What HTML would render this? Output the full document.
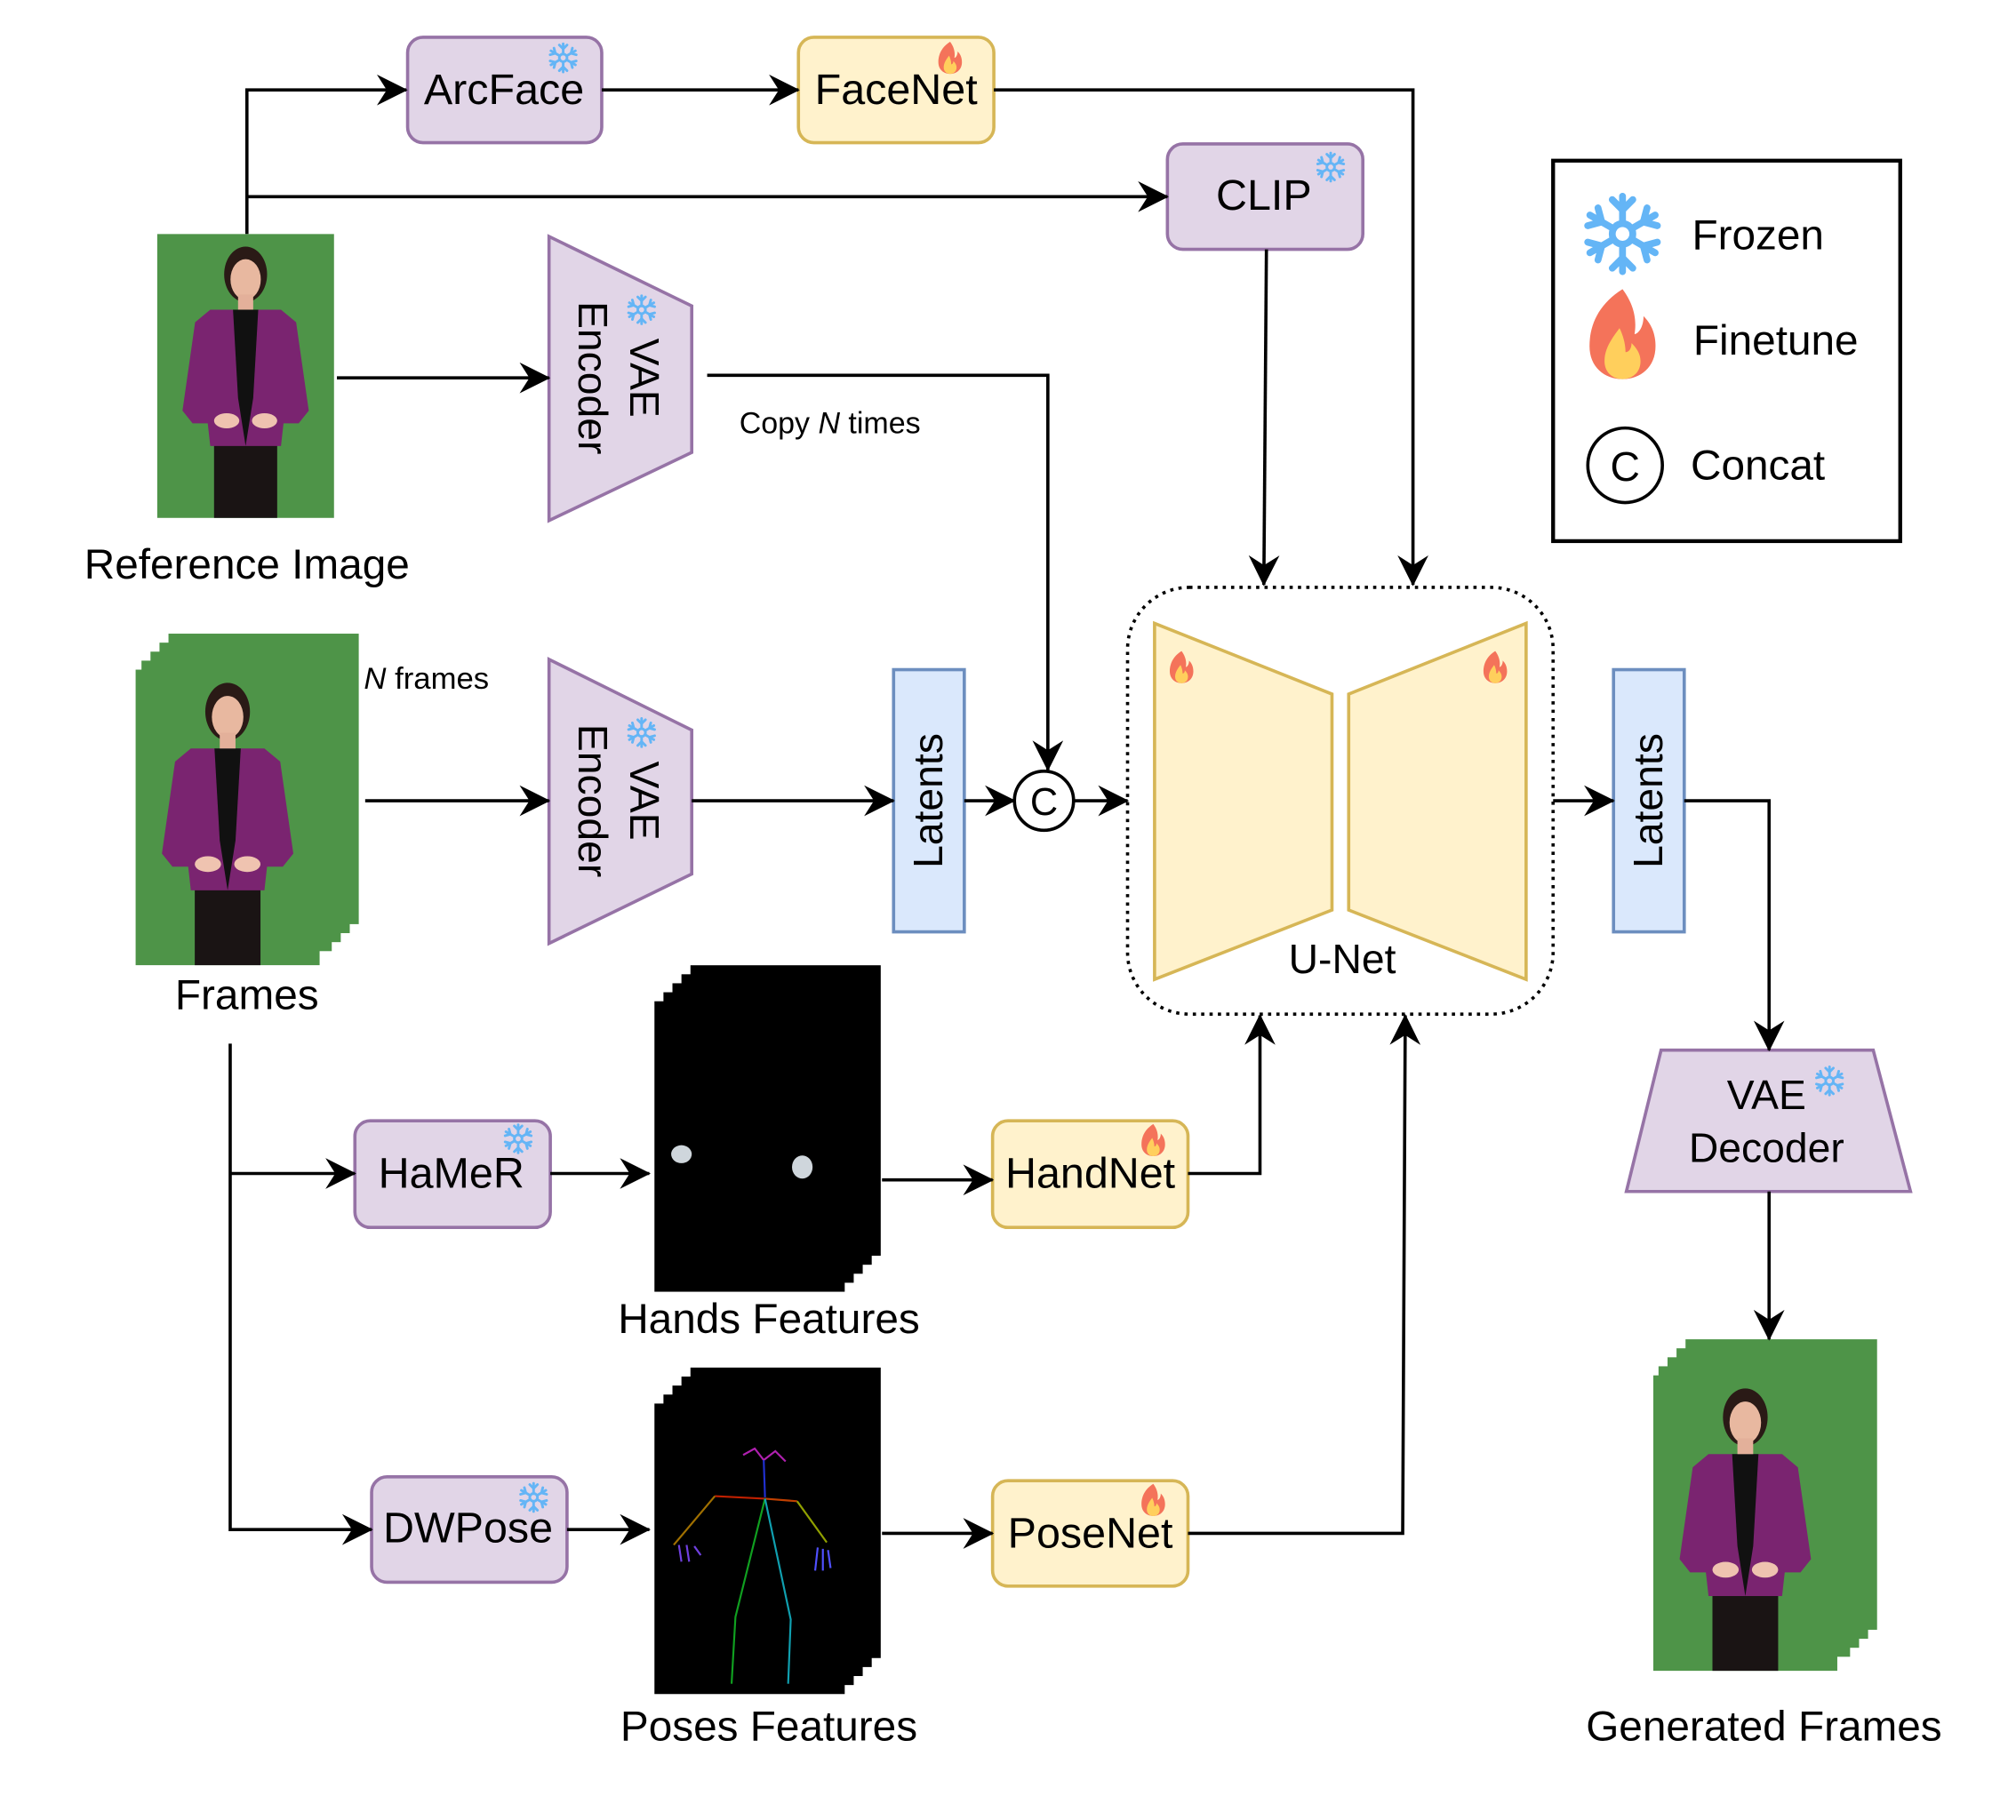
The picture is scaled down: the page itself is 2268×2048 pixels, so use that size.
<!DOCTYPE html>
<html><head><meta charset="utf-8"><style>
html,body{margin:0;padding:0;background:#fff}
svg{display:block}
text{font-family:"Liberation Sans",sans-serif;fill:#000}
</style></head><body>
<svg width="2268" height="2048" viewBox="0 0 1568 1416" xmlns="http://www.w3.org/2000/svg">
<defs>
<marker id="a" viewBox="0 0 22 22" refX="21" refY="11" markerWidth="24" markerHeight="24" markerUnits="userSpaceOnUse" orient="auto">
<path d="M0,0 L22,11 L0,22 L7,11 Z" fill="#000"/></marker>
<symbol id="snow" viewBox="-12 -12 24 24">
<g stroke="#64b5f6" stroke-width="2" stroke-linecap="round" fill="none">
<g id="arm"><line x1="0" y1="-3" x2="0" y2="-11"/><line x1="0" y1="-7" x2="-3" y2="-10"/><line x1="0" y1="-7" x2="3" y2="-10"/></g>
<use href="#arm" transform="rotate(60)"/><use href="#arm" transform="rotate(120)"/><use href="#arm" transform="rotate(180)"/><use href="#arm" transform="rotate(240)"/><use href="#arm" transform="rotate(300)"/>
<circle r="3"/></g></symbol>
<symbol id="fire" viewBox="0 0 24 30">
<path d="M12,0 C4,5 1,12 1,19 C1,26 6,30 12,30 C18,30 23,26 23,19 C23,14 21,11 19,9 C19,13 17,15 16,15 C17,9 15,4 12,0 Z" fill="#f4735a"/>
<path d="M11,13 C8,17 6,20 6,24 C6,28 9,30 12,30 C15,30 18,28 18,24 C18,21 16,19 15,18 C15,20 14,21 13,21 C13,18 12,15 11,13 Z" fill="#ffcf5c"/></symbol>
<symbol id="person" viewBox="0 0 140 225">
<rect width="140" height="225" fill="#4e9448"/>
<rect x="45" y="155" width="50" height="70" fill="#1a1414"/>
<path d="M42,60 L98,60 L110,70 L120,140 L112,150 L100,150 L98,168 L42,168 L40,150 L28,150 L20,140 L30,70 Z" fill="#7a2470"/>
<path d="M60,60 L80,60 L76,130 L70,168 L64,130 Z" fill="#111"/>
<ellipse cx="70" cy="32" rx="17" ry="22" fill="#2a1a16"/>
<ellipse cx="70" cy="36" rx="12" ry="16" fill="#e8b8a0"/>
<rect x="64" y="48" width="12" height="12" fill="#e3b09a"/>
<ellipse cx="55" cy="148" rx="10" ry="6" fill="#efc3b0"/><ellipse cx="85" cy="148" rx="10" ry="6" fill="#efc3b0"/>
</symbol>
</defs>

<use href="#person" x="122" y="182" width="138" height="221" preserveAspectRatio="none"/>
<text x="192" y="450" font-size="33" text-anchor="middle">Reference Image</text>

<g fill="#4e9448">
<rect x="131" y="493" width="148" height="226"/>
<rect x="124" y="500" width="148" height="226"/>
<rect x="117" y="507" width="148" height="226"/>
<rect x="110" y="514" width="148" height="226"/>
</g>
<use href="#person" x="103" y="521" width="148" height="230" preserveAspectRatio="none"/>
<text x="192" y="785" font-size="33" text-anchor="middle">Frames</text>
<text x="283" y="536" font-size="24"><tspan font-style="italic">N</tspan> frames</text>

<g fill="#4e9448">
<rect x="1311" y="1042" width="149" height="226"/>
<rect x="1304" y="1049" width="149" height="226"/>
<rect x="1297" y="1056" width="149" height="226"/>
<rect x="1290" y="1063" width="149" height="226"/>
</g>
<use href="#person" x="1283" y="1070" width="149" height="230" preserveAspectRatio="none"/>
<text x="1372" y="1354" font-size="33" text-anchor="middle">Generated Frames</text>

<g fill="#000">
<rect x="537" y="751" width="148" height="226"/>
<rect x="530" y="758" width="148" height="226"/>
<rect x="523" y="765" width="148" height="226"/>
<rect x="516" y="772" width="148" height="226"/>
<rect x="509" y="779" width="148" height="226"/>
</g>
<ellipse cx="530" cy="898" rx="8" ry="7" fill="#cfd6dc"/>
<ellipse cx="624" cy="908" rx="8" ry="9" fill="#cfd6dc"/>
<text x="598" y="1037" font-size="33" text-anchor="middle">Hands Features</text>

<g fill="#000">
<rect x="537" y="1064" width="148" height="226"/>
<rect x="530" y="1071" width="148" height="226"/>
<rect x="523" y="1078" width="148" height="226"/>
<rect x="516" y="1085" width="148" height="226"/>
<rect x="509" y="1092" width="148" height="226"/>
</g>
<g fill="none" stroke-width="1.5">
<path d="M578,1132 L587,1127 L594,1136 L603,1129 L611,1137" stroke="#b020b0"/>
<line x1="594" y1="1136" x2="595" y2="1165" stroke="#2030d0"/>
<line x1="556" y1="1164" x2="595" y2="1166" stroke="#c02000"/>
<line x1="595" y1="1166" x2="620" y2="1168" stroke="#c04000"/>
<line x1="556" y1="1164" x2="524" y2="1202" stroke="#a07000"/>
<line x1="620" y1="1168" x2="643" y2="1200" stroke="#90a000"/>
<path d="M595,1166 L572,1258 L569,1310" stroke="#10a020"/>
<path d="M595,1166 L615,1260 L613,1310" stroke="#10a0b0"/>
<path d="M528,1202 L530,1215 M534,1202 L536,1215 M540,1203 L545,1210" stroke="#7040e0"/>
<path d="M636,1204 L634,1222 M640,1205 L640,1222 M644,1206 L646,1220" stroke="#5050ff"/>
</g>
<text x="598" y="1354" font-size="33" text-anchor="middle">Poses Features</text>

<g stroke-width="2.5">
<rect x="317" y="29" width="151" height="82" rx="12" fill="#e1d5e7" stroke="#9673a6"/>
<rect x="621" y="29" width="152" height="82" rx="12" fill="#fff2cc" stroke="#d6b656"/>
<rect x="908" y="112" width="152" height="82" rx="12" fill="#e1d5e7" stroke="#9673a6"/>
<rect x="276" y="872" width="152" height="83" rx="12" fill="#e1d5e7" stroke="#9673a6"/>
<rect x="289" y="1149" width="152" height="82" rx="12" fill="#e1d5e7" stroke="#9673a6"/>
<rect x="772" y="872" width="152" height="83" rx="12" fill="#fff2cc" stroke="#d6b656"/>
<rect x="772" y="1152" width="152" height="82" rx="12" fill="#fff2cc" stroke="#d6b656"/>
<rect x="695" y="521" width="55" height="204" fill="#dae8fc" stroke="#6c8ebf"/>
<rect x="1255" y="521" width="55" height="204" fill="#dae8fc" stroke="#6c8ebf"/>
<polygon points="427,184 538,238 538,352 427,405" fill="#e1d5e7" stroke="#9673a6"/>
<polygon points="427,513 538,568 538,680 427,734" fill="#e1d5e7" stroke="#9673a6"/>
<polygon points="1292,817 1457,817 1486,927 1265,927" fill="#e1d5e7" stroke="#9673a6"/>
<polygon points="898,485 1036,540 1036,708 898,762" fill="#fff2cc" stroke="#d6b656"/>
<polygon points="1049,540 1187,485 1187,762 1049,708" fill="#fff2cc" stroke="#d6b656"/>
</g>
<rect x="877" y="457" width="331" height="332" rx="48" fill="none" stroke="#000" stroke-width="2.5" stroke-dasharray="2.5,4"/>
<text x="1044" y="757" font-size="32" text-anchor="middle">U-Net</text>

<g font-size="33.5" text-anchor="middle">
<text x="392" y="81">ArcFace</text>
<text x="697" y="81">FaceNet</text>
<text x="983" y="163">CLIP</text>
<text x="351" y="924">HaMeR</text>
<text x="364" y="1200">DWPose</text>
<text x="848" y="924">HandNet</text>
<text x="848" y="1204">PoseNet</text>
<text x="1374" y="863" font-size="32">VAE</text>
<text x="1374" y="904" font-size="32">Decoder</text>
</g>
<g font-size="32" text-anchor="middle">
<text transform="translate(722,623) rotate(-90)" y="11">Latents</text>
<text transform="translate(1282,623) rotate(-90)" y="11">Latents</text>
<text transform="translate(482,294) rotate(90)"><tspan x="0" y="-8">VAE</tspan><tspan x="0" y="32">Encoder</tspan></text>
<text transform="translate(482,623) rotate(90)"><tspan x="0" y="-8">VAE</tspan><tspan x="0" y="32">Encoder</tspan></text>
</g>
<text x="575" y="337" font-size="23.5">Copy <tspan font-style="italic">N</tspan> times</text>

<use href="#snow" x="426" y="33" width="24" height="24"/>
<use href="#snow" x="1023" y="118" width="24" height="24"/>
<use href="#snow" x="391" y="874" width="24" height="24"/>
<use href="#snow" x="403" y="1153" width="24" height="24"/>
<use href="#snow" x="1411" y="829" width="24" height="24"/>
<use href="#snow" x="487" y="229" width="24" height="24"/>
<use href="#snow" x="487" y="558" width="24" height="24"/>
<use href="#fire" x="729" y="32" width="20" height="26"/>
<use href="#fire" x="887" y="874" width="20" height="26"/>
<use href="#fire" x="887" y="1154" width="20" height="26"/>
<use href="#fire" x="909" y="506" width="20" height="26"/>
<use href="#fire" x="1153" y="506" width="20" height="26"/>

<circle cx="812" cy="623" r="23" fill="#fff" stroke="#000" stroke-width="2.5"/>
<text x="812" y="634" font-size="30" text-anchor="middle">C</text>

<rect x="1208" y="125" width="270" height="296" fill="none" stroke="#000" stroke-width="3"/>
<use href="#snow" x="1230" y="150" width="64" height="64"/>
<use href="#fire" x="1234" y="224" width="56" height="72"/>
<circle cx="1264" cy="362" r="29" fill="none" stroke="#000" stroke-width="2.5"/>
<text x="1264" y="374" font-size="32" text-anchor="middle">C</text>
<text x="1316" y="194" font-size="33">Frozen</text>
<text x="1317" y="276" font-size="33">Finetune</text>
<text x="1315" y="373" font-size="33">Concat</text>

<g fill="none" stroke="#000" stroke-width="2.5" marker-end="url(#a)">
<path d="M192,182 L192,70 L316,70"/>
<path d="M192,153 L908,153"/>
<path d="M468,70 L621,70"/>
<path d="M773,70 L1099,70 L1099,455"/>
<path d="M985,194 L983,455"/>
<path d="M262,294 L427,294"/>
<path d="M550,292 L815,292 L815,599"/>
<path d="M284,623 L427,623"/>
<path d="M538,623 L695,623"/>
<path d="M750,623 L789,623"/>
<path d="M835,623 L877,623"/>
<path d="M1208,623 L1255,623"/>
<path d="M1310,623 L1376,623 L1376,817"/>
<path d="M1376,927 L1376,1042"/>
<path d="M179,913 L276,913"/>
<path d="M179,812 L179,1190 L289,1190"/>
<path d="M428,913 L505,913"/>
<path d="M686,918 L772,918"/>
<path d="M924,913 L980,913 L980,790"/>
<path d="M441,1190 L505,1190"/>
<path d="M686,1193 L772,1193"/>
<path d="M924,1193 L1091,1193 L1093,790"/>
</g>
</svg>
</body></html>
